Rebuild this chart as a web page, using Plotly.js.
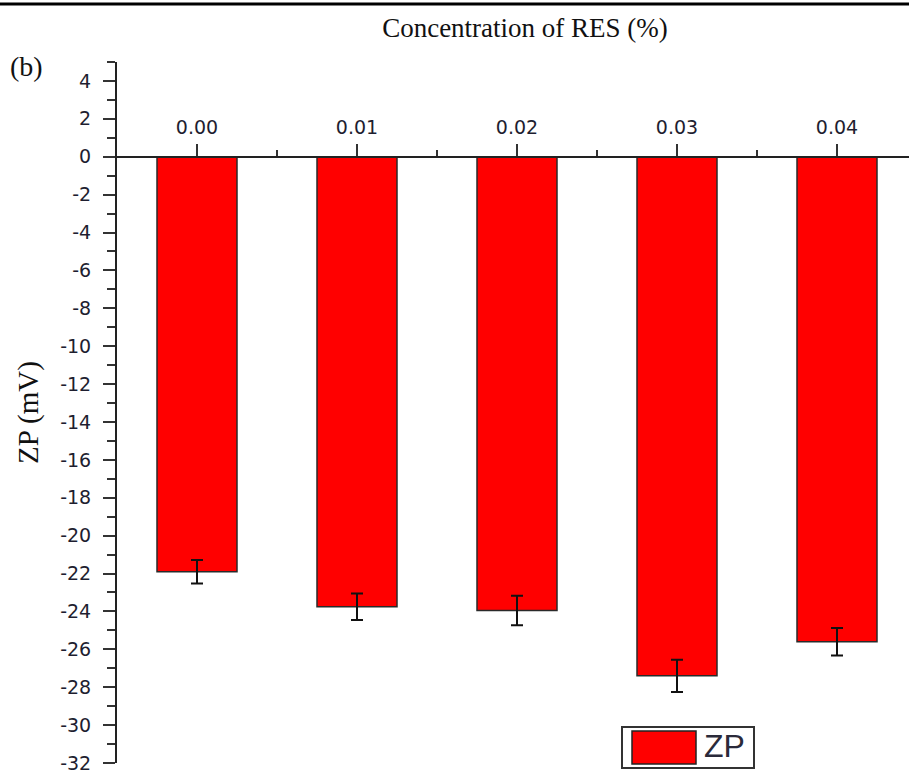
<!DOCTYPE html>
<html>
<head>
<meta charset="utf-8">
<script src="https://cdn.plot.ly/plotly-3.0.1.min.js"></script>
<style>html,body{margin:0;padding:0;background:#fff;}</style>
</head>
<body>
<div id="chart" style="width:909px;height:770px;"></div>
<script>
const categories = ["0.00", "0.01", "0.02", "0.03", "0.04"];
const zpValues = [-21.9, -23.75, -23.95, -27.4, -25.6];
const zpErrors = [0.62, 0.7, 0.78, 0.85, 0.72];
const seriesName = "ZP";
const yTickVals = [4, 2, 0, -2, -4, -6, -8, -10, -12, -14, -16, -18, -20, -22, -24, -26, -28, -30, -32];
const yTickText = ["4", "2", "0", "-2", "-4", "-6", "-8", "-10", "-12", "-14", "-16", "-18", "-20", "-22", "-24", "-26", "-28", "-30", "-32"];

const W = 909, H = 770;
const mL = 117, mR = 0, mT = 62, mB = 7;
const plotW = W - mL - mR, plotH = H - mT - mB;
const px2x = p => (p - mL) / plotW;
const py2y = p => (H - mB - p) / plotH;

const xIdx = categories.map((c, i) => i);
const minorX = categories.slice(1).map((c, i) => i + 0.5);
const yMin = -32, yMax = 5;

const trace = {
  type: 'bar',
  x: xIdx,
  y: zpValues,
  width: 0.5,
  name: seriesName,
  marker: {color: '#ff0000', line: {color: '#2a2a2a', width: 1.5}},
  error_y: {type: 'data', array: zpErrors, visible: true, color: '#111', thickness: 2, width: 6},
  showlegend: false,
  hoverinfo: 'x+y'
};

const layout = {
  width: W, height: H,
  margin: {l: mL, r: mR, t: mT, b: mB, pad: 0},
  paper_bgcolor: '#fff', plot_bgcolor: '#fff',
  title: {
    text: 'Concentration of RES (%)',
    font: {family: 'Liberation Serif, Times New Roman, serif', size: 27, color: '#111'},
    xref: 'paper', x: px2x(525), xanchor: 'center',
    yref: 'container', y: 1 - 28 / H, yanchor: 'middle'
  },
  xaxis: {
    range: [-0.5, 4.45],
    anchor: 'free',
    position: (0 - yMin) / (yMax - yMin),
    side: 'top',
    tickmode: 'array', tickvals: xIdx, ticktext: categories,
    ticks: 'outside', ticklen: 12, tickwidth: 2, tickcolor: '#333',
    minor: {tickmode: 'array', tickvals: minorX, ticks: 'outside', ticklen: 6, tickwidth: 2, tickcolor: '#333'},
    showline: true, linecolor: '#222', linewidth: 2,
    showgrid: false, zeroline: false,
    tickfont: {family: 'DejaVu Sans, sans-serif', size: 19, color: '#1e1e30'},
    ticklabelstandoff: 2,
    fixedrange: true
  },
  yaxis: {
    range: [yMin, yMax],
    tickmode: 'array', tickvals: yTickVals, ticktext: yTickText,
    ticks: 'outside', ticklen: 12, tickwidth: 2, tickcolor: '#333',
    minor: {tick0: 1, dtick: 2, ticks: 'outside', ticklen: 8, tickwidth: 2, tickcolor: '#333'},
    showline: true, linecolor: '#222', linewidth: 2,
    showgrid: false, zeroline: false,
    tickfont: {family: 'DejaVu Sans, sans-serif', size: 19, color: '#1e1e30'},
    ticklabelstandoff: 8,
    ticklabeloverflow: 'allow',
    title: {text: 'ZP (mV)', font: {family: 'Liberation Serif, Times New Roman, serif', size: 29, color: '#111'}, standoff: 13},
    fixedrange: true
  },
  shapes: [
    {type: 'line', xref: 'paper', yref: 'paper', x0: px2x(0), x1: px2x(W), y0: py2y(4), y1: py2y(4), line: {color: '#000', width: 3}},
    {type: 'rect', xref: 'paper', yref: 'paper', x0: px2x(622), x1: px2x(754), y0: py2y(768), y1: py2y(727), line: {color: '#333', width: 2}, fillcolor: '#fff'},
    {type: 'rect', xref: 'paper', yref: 'paper', x0: px2x(632), x1: px2x(696), y0: py2y(764), y1: py2y(731), line: {color: '#222', width: 1.5}, fillcolor: '#ff0000'}
  ],
  annotations: [
    {text: seriesName, xref: 'paper', yref: 'paper', x: px2x(702), y: py2y(746), xanchor: 'left', yanchor: 'middle', showarrow: false,
     font: {family: 'Liberation Sans, Arial, sans-serif', size: 32, color: '#2a2a3a'}},
    {text: '(b)', xref: 'paper', yref: 'paper', x: px2x(8), y: py2y(66), xanchor: 'left', yanchor: 'middle', showarrow: false,
     font: {family: 'Liberation Serif, Times New Roman, serif', size: 28, color: '#111'}}
  ]
};

Plotly.newPlot('chart', [trace], layout, {displayModeBar: false, staticPlot: true});
</script>
</body>
</html>
